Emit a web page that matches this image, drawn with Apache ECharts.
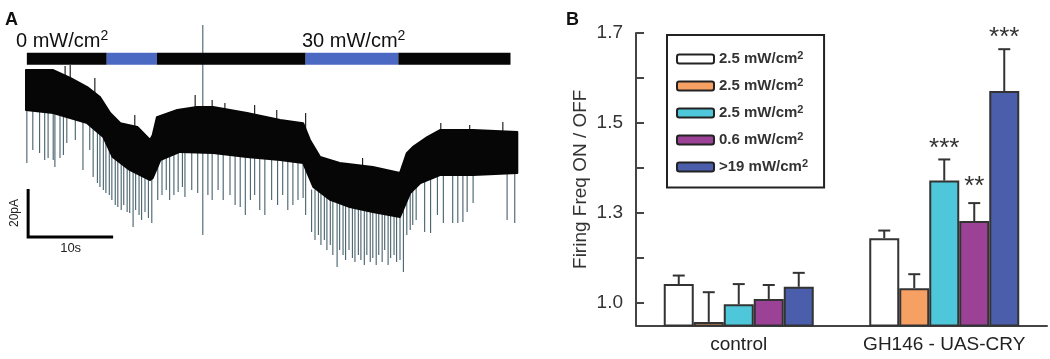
<!DOCTYPE html>
<html>
<head>
<meta charset="utf-8">
<title>Firing Freq ON / OFF</title>
<script src="https://cdn.jsdelivr.net/npm/echarts@6.0.0/dist/echarts.min.js"></script>
<style>
html,body{margin:0;padding:0;background:#fff;}
#charts{width:1050px;height:359px;}
</style>
</head>
<body>
<div id="charts"></div>
<script>
var charts;
var FONT = "'Liberation Sans', Arial, sans-serif";

//===== A : current trace (time in s, current in pA) =====
//upper / lower edge of the dense noise band
var traceUpper = [[0,0.8],[3.2,0.8],[5.2,-2.5],[7.2,-6.3],[8.7,-10.4],[9.9,-17.1],[11.1,-21.3],[13.1,-22.9],[14.6,-28.3],[14.9,-26.3],[15.4,-18.8],[17.8,-15.8],[20.1,-14.6],[22.0,-14.6],[26.0,-17.1],[29.9,-20.0],[32.6,-21.3],[33.4,-28.3],[34.6,-35.4],[36.9,-37.9],[40.8,-39.6],[44.0,-42.1],[44.8,-33.8],[45.5,-31.3],[47.2,-27.1],[48.7,-24.2],[52.6,-24.2],[57.8,-25.0]];
var traceLower = [[0,-15.8],[3.2,-17.1],[7.2,-21.3],[9.1,-27.1],[10.2,-35.4],[12.2,-40.8],[14.6,-45.0],[14.9,-44.2],[15.8,-36.7],[18.1,-33.3],[22.0,-33.8],[26.0,-35.4],[29.9,-36.7],[32.6,-37.9],[33.8,-47.9],[35.8,-53.3],[38.1,-56.3],[40.8,-58.3],[44.0,-60.4],[45.2,-50.4],[46.4,-46.3],[48.7,-42.9],[52.6,-42.9],[57.8,-42.1]];
//spikes : [time, from, to]
var spikesDown = [
	[0.1,-14,-37.9],[0.8,-14,-32.5],[1.6,-14,-33.8],[2.2,-14,-36.7],[2.6,-14,-35.8],[3.2,-14,-36.7],[3.4,-14,-39.6],[4.0,-14,-35.8],[4.4,-14,-34.6],[4.8,-14,-29.6],[5.8,-14,-28.3],[6.7,-14,-40.8],[7.5,-14,-32.5],[7.9,-14,-43.8],[8.4,-14,-46.3],
	[8.7,-25,-47.9],[9.1,-25,-49.2],[9.4,-25,-50.4],[9.8,-25,-51.3],[10.1,-25,-53.3],[10.5,-35,-55.4],[10.8,-35,-56.3],[11.2,-35,-57.5],[11.5,-35,-55.4],[11.9,-35,-58.3],[12.2,-35,-58.8],[12.6,-35,-64.6],[12.9,-35,-57.5],[13.3,-35,-59.6],[13.6,-35,-61.7],[14.0,-35,-58.3],[14.4,-35,-60.8],[14.8,-35,-62.9],
	[15.5,-28,-53.3],[16.0,-28,-51.3],[16.5,-28,-49.2],[16.9,-28,-53.3],[17.4,-28,-51.3],[17.9,-28,-50.0],[18.4,-28,-47.9],[18.7,-28,-52.1],[19.5,-28,-49.2],[20.2,-28,-50.4],[20.8,19.6,-67.9],[21.4,-28,-51.3],[21.9,-28,-53.3],[22.6,-28,-49.2],[23.2,-28,-53.3],[24.0,-28,-51.3],[24.6,-28,-55.4],[25.2,-28,-56.3],[25.8,-28,-59.6],[26.4,-28,-53.3],[26.9,-28,-51.3],[27.5,-28,-57.5],[28.1,-28,-59.6],[28.9,-28,-53.3],[29.6,-28,-55.4],[30.2,-28,-51.3],[30.8,-28,-57.5],[31.4,-28,-55.4],[32.0,-28,-53.3],[32.6,-28,-52.5],[32.9,-28,-59.6],
	[33.6,-49,-66.7],[34.0,-49,-70.0],[34.4,-49,-67.9],[34.7,-49,-72.1],[35.1,-49,-70.0],[35.4,-49,-74.2],[35.8,-49,-72.1],[36.1,-49,-76.3],[36.6,-49,-81.3],[36.9,-49,-74.2],[37.3,-49,-76.3],[37.6,-49,-78.3],[38.0,-49,-74.2],[38.4,-49,-77.5],[38.7,-49,-79.2],[39.1,-49,-76.3],[39.4,-49,-78.3],[39.8,-49,-80.4],[40.1,-49,-76.3],[40.5,-49,-79.2],[40.8,-49,-77.5],[41.2,-49,-80.4],[41.5,-49,-76.3],[41.9,-49,-79.2],[42.2,-49,-74.2],[42.6,-49,-80.4],[42.9,-49,-77.5],[43.3,-49,-76.3],[43.6,-49,-79.2],[44.0,-49,-78.3],[44.4,-49,-83.3],
	[44.8,-39,-67.9],[45.2,-39,-65.8],[45.5,-39,-63.8],[45.9,-39,-61.7],[46.9,-39,-66.7],[47.6,-39,-67.1],[48.4,-39,-59.6],[49.1,-39,-62.9],[50.2,-39,-62.9],[50.8,-39,-62.9],[51.4,-39,-62.5],[51.9,-39,-58.3],[52.6,-39,-54.6],[56.6,-39,-61.7],[57.5,-39,-62.9]
];
var spikesUp = [[4.6,-5,2.5],[5.2,-5,2.9],[8.1,-11,-2.5],[12.8,-25,-17.9],[19.9,-17,-9.6],[21.9,-17,-11.7],[23.4,-18,-12.9],[26.9,-20,-13.8],[29.5,-22,-15.8],[32.9,-25,-17.1],[39.6,-41,-35.8],[48.8,-27,-21.3],[52.2,-27,-22.1],[56.1,-28,-20.8]];
//light stimulus : [start s, end s, on]
var stimulus = [[0.1,9.5,0],[9.5,15.4,1],[15.4,32.9,0],[32.9,43.8,1],[43.8,57.0,0]];
//scale bar : [t0, top pA, 10 s, 20 pA]
var scaleBar = [[0.25,-48.75,10,20]];

//===== B : firing frequency ratio =====
var categories = ['control','GH146 - UAS-CRY'];
var legendText = ['2.5 mW/cm','2.5 mW/cm','2.5 mW/cm','0.6 mW/cm','>19 mW/cm'];
var barColors = ['#ffffff','#f7a064','#4fc7da','#9c4296','#4a5eab'];
var white25  = [1.142, 1.244];
var orange25 = [1.058, 1.133];
var cyan25   = [1.097, 1.372];
var purple06 = [1.109, 1.282];
var blue19   = [1.136, 1.571];
var white25Err  = [0.019, 0.017];
var orange25Err = [0.066, 0.031];
var cyan25Err   = [0.045, 0.047];
var purple06Err = [0.031, 0.040];
var blue19Err   = [0.031, 0.093];
var sigMarks = [['',''],['',''],['','***'],['','**'],['','***']];
var yTickValues = [1.1,1.2,1.3,1.4,1.5,1.6,1.7];
var yLabelValues = [1.1,1.3,1.5,1.7];
var yLabelTexts  = ['1.0','1.3','1.5','1.7'];

var BAR_W = 30;

initChart();

function initChart(){
	charts = echarts.init(document.getElementById('charts'));
	charts.setOption(buildOption());
}

//one short line between two data points of a custom series
function segment(api, color){
	var a = api.coord([api.value(0), api.value(1)]);
	var b = api.coord([api.value(0), api.value(2)]);
	return {type:'line', shape:{x1:a[0], y1:a[1], x2:b[0], y2:b[1]}, style:{stroke:color, lineWidth:1.1}};
}

function buildOption(){
	var means = [white25, orange25, cyan25, purple06, blue19];
	var errs = [white25Err, orange25Err, cyan25Err, purple06Err, blue19Err];
	var series = [];
	var errData = [];
	var errSig = [];
	for(var s=0;s<means.length;s++){
		series.push({
			name : 's'+s,
			type : 'bar',
			xAxisIndex : 0,
			yAxisIndex : 0,
			barWidth : BAR_W,
			barGap : '0%',
			itemStyle : {color : barColors[s], borderColor : '#333', borderWidth : 2},
			data : means[s]
		});
		for(var c=0;c<categories.length;c++){
			errData.push([c, means[s][c], means[s][c]+errs[s][c], s]);
			errSig.push(sigMarks[s][c]);
		}
	}
	//error bars + stars
	series.push({
		type : 'custom',
		xAxisIndex : 0,
		yAxisIndex : 0,
		z : 5,
		silent : true,
		data : errData,
		renderItem : function(params, api){
			var c = api.value(0);
			var bot = api.coord([c, api.value(1)]);
			var top = api.coord([c, api.value(2)]);
			var x = top[0] + (api.value(3) - 2) * BAR_W;
			var kids = [
				{type:'line', shape:{x1:x, y1:bot[1], x2:x, y2:top[1]}, style:{stroke:'#333', lineWidth:2}},
				{type:'line', shape:{x1:x-6, y1:top[1], x2:x+6, y2:top[1]}, style:{stroke:'#333', lineWidth:2}}
			];
			var mark = errSig[params.dataIndex];
			if(mark){
				var gap = mark.length == 2 ? 29 : 24;
				kids.push({type:'text', x:x, y:top[1]-gap, style:{text:mark, fill:'#333', font:'26px '+FONT, align:'center', verticalAlign:'top'}});
			}
			return {type:'group', children:kids};
		}
	});
	//trace spikes (under the band)
	series.push({
		type : 'custom', xAxisIndex : 1, yAxisIndex : 1, z : 2, silent : true,
		data : spikesDown,
		renderItem : function(params, api){ return segment(api, '#46606c'); }
	});
	series.push({
		type : 'custom', xAxisIndex : 1, yAxisIndex : 1, z : 2, silent : true,
		data : spikesUp,
		renderItem : function(params, api){ return segment(api, '#111'); }
	});
	//noise band
	series.push({
		type : 'custom', xAxisIndex : 1, yAxisIndex : 1, z : 3, silent : true,
		data : [0],
		renderItem : function(params, api){
			var pts = [];
			for(var i=0;i<traceUpper.length;i++){ pts.push(api.coord(traceUpper[i])); }
			for(var j=traceLower.length-1;j>=0;j--){ pts.push(api.coord(traceLower[j])); }
			return {type:'polygon', shape:{points:pts}, style:{fill:'#060606', stroke:'#060606', lineWidth:2, lineJoin:'round'}};
		}
	});
	//stimulus bar
	series.push({
		type : 'custom', xAxisIndex : 1, yAxisIndex : 1, z : 4, silent : true,
		data : stimulus,
		renderItem : function(params, api){
			var a = api.coord([api.value(0), 8]);
			var b = api.coord([api.value(1), 3]);
			return {type:'rect', shape:{x:a[0], y:a[1], width:b[0]-a[0], height:b[1]-a[1]},
				style:{fill: api.value(2) ? '#4b68c2' : '#060606'}};
		}
	});
	//scale bar
	series.push({
		type : 'custom', xAxisIndex : 1, yAxisIndex : 1, z : 4, silent : true,
		data : scaleBar,
		renderItem : function(params, api){
			var t0 = api.value(0), i0 = api.value(1);
			var p1 = api.coord([t0, i0]);
			var p2 = api.coord([t0, i0 - api.value(3)]);
			var p3 = api.coord([t0 + api.value(2), i0 - api.value(3)]);
			return {type:'group', children:[
				{type:'polyline', shape:{points:[p1,p2,p3]}, style:{stroke:'#000', lineWidth:3, fill:null}},
				{type:'text', x:p1[0]-13, y:(p1[1]+p2[1])/2, rotation:Math.PI/2,
					style:{text:'20pA', fill:'#222', font:'12px '+FONT, align:'center', verticalAlign:'middle'}},
				{type:'text', x:(p2[0]+p3[0])/2, y:p3[1]+11,
					style:{text:'10s', fill:'#222', font:'13px '+FONT, align:'center', verticalAlign:'middle'}}
			]};
		}
	});

	var supRich = {
		n : {fontSize:20, fontWeight:'normal', fontFamily:FONT, color:'#111', lineHeight:24},
		s : {fontSize:14, fontWeight:'normal', fontFamily:FONT, color:'#111', verticalAlign:'top', lineHeight:14}
	};

	return {
		animation : false,
		backgroundColor : '#fff',
		textStyle : {fontFamily : FONT},
		title : [
			{text:'A', left:5, top:11, padding:0, textStyle:{fontSize:18, fontWeight:'bold', color:'#111', fontFamily:FONT}},
			{text:'B', left:566, top:11, padding:0, textStyle:{fontSize:18, fontWeight:'bold', color:'#111', fontFamily:FONT}},
			{text:'{n|0 mW/cm}{s|2}', left:16, top:29, padding:0, textStyle:{fontWeight:'normal', rich:supRich}},
			{text:'{n|30 mW/cm}{s|2}', left:302, top:29, padding:0, textStyle:{fontWeight:'normal', rich:supRich}}
		],
		legend : {
			orient : 'vertical',
			left : 667,
			top : 35,
			padding : [15, 16, 13, 9],
			itemWidth : 37,
			itemHeight : 9,
			itemGap : 10.5,
			icon : 'roundRect',
			backgroundColor : '#fff',
			borderColor : '#222',
			borderWidth : 2,
			borderRadius : 0,
			itemStyle : {borderColor:'#222', borderWidth:2},
			data : ['s0','s1','s2','s3','s4'],
			formatter : function(name){
				return '{n|' + legendText[+name.substring(1)] + '}{s|2}';
			},
			textStyle : {
				rich : {
					n : {fontSize:15, fontWeight:'bold', color:'#333', fontFamily:FONT, lineHeight:18},
					s : {fontSize:11, fontWeight:'bold', color:'#333', fontFamily:FONT, verticalAlign:'top', lineHeight:11}
				}
			}
		},
		grid : [
			{left:636, top:33, width:411, height:292.5},
			{left:26, top:19.2, width:493, height:268.8}
		],
		xAxis : [{
			gridIndex : 0,
			type : 'category',
			data : categories,
			axisLine : {lineStyle:{color:'#444', width:2}},
			axisTick : {show:false},
			axisLabel : {fontSize:19, color:'#222', margin:10, fontFamily:FONT, interval:0, hideOverlap:false}
		},{
			gridIndex : 1, type : 'value', min : 0, max : 58, show : false
		}],
		yAxis : [{
			gridIndex : 0,
			type : 'value',
			min : 1.05,
			max : 1.7,
			name : 'Firing Freq ON / OFF',
			nameLocation : 'middle',
			nameGap : 46,
			nameTextStyle : {fontSize:19, color:'#333', fontFamily:FONT},
			splitLine : {show:false},
			axisLine : {show:true, lineStyle:{color:'#444', width:2}},
			axisTick : {show:true, inside:true, length:8, customValues:yTickValues, lineStyle:{color:'#444', width:2}},
			axisLabel : {
				fontSize : 19, color : '#333', margin : 13, fontFamily : FONT,
				customValues : yLabelValues,
				formatter : function(v){
					for(var i=0;i<yLabelValues.length;i++){
						if(Math.abs(yLabelValues[i]-v) < 1e-6) return yLabelTexts[i];
					}
					return '';
				}
			}
		},{
			gridIndex : 1, type : 'value', min : -90, max : 22, show : false
		}],
		series : series
	};
}
</script>
</body>
</html>
